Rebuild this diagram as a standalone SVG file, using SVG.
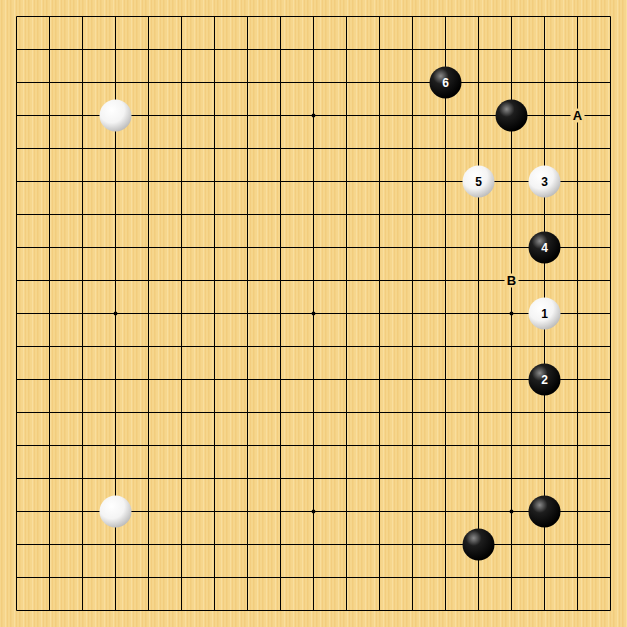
<svg xmlns="http://www.w3.org/2000/svg" width="627" height="627" viewBox="0 0 627 627">
<defs>
<pattern id="wood" width="9" height="627" patternUnits="userSpaceOnUse">
<rect width="9" height="627" fill="#F6D68C"/>
<rect x="1" width="1.5" height="627" fill="#F1C977" opacity="0.7"/>
<rect x="5" width="1" height="627" fill="#FAE0A2" opacity="0.8"/>
<rect x="7" width="1" height="627" fill="#EFC472" opacity="0.5"/>
</pattern>
<radialGradient id="gb" cx="0.35" cy="0.3" r="0.7">
<stop offset="0" stop-color="#8a8a8a"/>
<stop offset="0.35" stop-color="#1e1e1e"/>
<stop offset="1" stop-color="#000"/>
</radialGradient>
<radialGradient id="gw" cx="0.38" cy="0.33" r="0.72">
<stop offset="0" stop-color="#ffffff"/>
<stop offset="0.55" stop-color="#f4f4f4"/>
<stop offset="1" stop-color="#b8b8b8"/>
</radialGradient>
<style>
.ln{stroke:#000;stroke-width:1;fill:none}
.b{fill:url(#gb)}
.w{fill:url(#gw)}
.nb{fill:#fff;font-family:"Liberation Sans",Arial,sans-serif;font-size:12px;font-weight:bold;text-anchor:middle}
.nw{fill:#000;font-family:"Liberation Sans",Arial,sans-serif;font-size:12px;font-weight:bold;text-anchor:middle}
.lab{fill:#000;font-family:"Liberation Sans",Arial,sans-serif;font-size:13px;font-weight:bold;text-anchor:middle}
.clr{fill:#F6D68C}
</style>
</defs>
<rect width="627" height="627" fill="url(#wood)"/>
<g id="grid">
<path class="ln" d="M16.5 16.5H610.5M16.5 49.5H610.5M16.5 82.5H610.5M16.5 115.5H610.5M16.5 148.5H610.5M16.5 181.5H610.5M16.5 214.5H610.5M16.5 247.5H610.5M16.5 280.5H610.5M16.5 313.5H610.5M16.5 346.5H610.5M16.5 379.5H610.5M16.5 412.5H610.5M16.5 445.5H610.5M16.5 478.5H610.5M16.5 511.5H610.5M16.5 544.5H610.5M16.5 577.5H610.5M16.5 610.5H610.5"/>
<path class="ln" d="M16.5 16.5V610.5M49.5 16.5V610.5M82.5 16.5V610.5M115.5 16.5V610.5M148.5 16.5V610.5M181.5 16.5V610.5M214.5 16.5V610.5M247.5 16.5V610.5M280.5 16.5V610.5M313.5 16.5V610.5M346.5 16.5V610.5M379.5 16.5V610.5M412.5 16.5V610.5M445.5 16.5V610.5M478.5 16.5V610.5M511.5 16.5V610.5M544.5 16.5V610.5M577.5 16.5V610.5M610.5 16.5V610.5"/>
<g fill="#000">
<circle cx="115.5" cy="115.5" r="2"/><circle cx="313.5" cy="115.5" r="2"/><circle cx="511.5" cy="115.5" r="2"/>
<circle cx="115.5" cy="313.5" r="2"/><circle cx="313.5" cy="313.5" r="2"/><circle cx="511.5" cy="313.5" r="2"/>
<circle cx="115.5" cy="511.5" r="2"/><circle cx="313.5" cy="511.5" r="2"/><circle cx="511.5" cy="511.5" r="2"/>
</g>
</g>
<g id="stones">
<g id="w-c3r3"><circle class="w" cx="115.5" cy="115.5" r="16"/></g>
<g id="w-c3r15"><circle class="w" cx="115.5" cy="511.5" r="16"/></g>
<g id="b-c15r3"><circle class="b" cx="511.5" cy="115.5" r="16"/></g>
<g id="b-c16r15"><circle class="b" cx="544.5" cy="511.5" r="16"/></g>
<g id="b-c14r16"><circle class="b" cx="478.5" cy="544.5" r="16"/></g>
<g id="m1"><circle class="w" cx="544.5" cy="313.5" r="16"/><text class="nw" x="544.5" y="317.8">1</text></g>
<g id="m2"><circle class="b" cx="544.5" cy="379.5" r="16"/><text class="nb" x="544.5" y="383.8">2</text></g>
<g id="m3"><circle class="w" cx="544.5" cy="181.5" r="16"/><text class="nw" x="544.5" y="185.8">3</text></g>
<g id="m4"><circle class="b" cx="544.5" cy="247.5" r="16"/><text class="nb" x="544.5" y="251.8">4</text></g>
<g id="m5"><circle class="w" cx="478.5" cy="181.5" r="16"/><text class="nw" x="478.5" y="185.8">5</text></g>
<g id="m6"><circle class="b" cx="445.5" cy="82.5" r="16"/><text class="nb" x="445.5" y="86.8">6</text></g>
</g>
<g id="labels">
<g id="lA"><circle class="clr" cx="577.5" cy="115.5" r="7"/><text class="lab" x="577.5" y="120.2">A</text></g>
<g id="lB"><circle class="clr" cx="511.5" cy="280.5" r="7"/><text class="lab" x="511.5" y="285.2">B</text></g>
</g>
</svg>
